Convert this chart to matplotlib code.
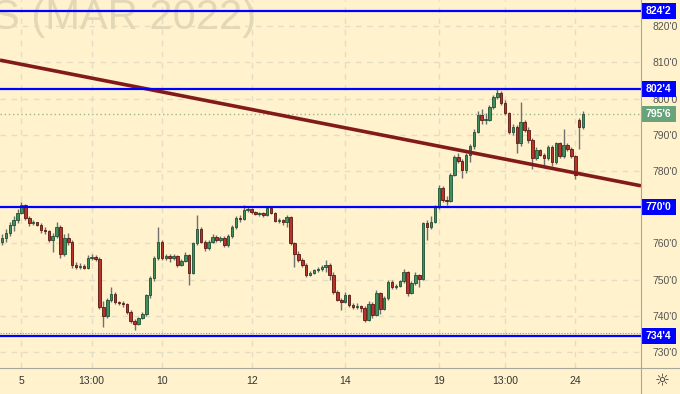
import matplotlib
matplotlib.use('Agg')
import matplotlib.pyplot as plt
import matplotlib.transforms as mtransforms
from matplotlib.patches import Rectangle

# hourly candles (open, high, low, close)
opens = [760.5, 761.5, 763, 765, 766.5, 768.5, 770.5, 767, 765.5, 765.8,
         765.2, 763.8, 763.4, 761, 762, 764.6, 757, 761.5, 760.5, 754,
         753.5, 753.8, 753.3, 756, 756.3, 755.8, 742.5, 740, 744.3, 746,
         743.8, 743.5, 743.2, 741, 738.5, 737.8, 739.4, 740.5, 745.7, 750.4,
         756, 760.4, 756, 756.5, 756, 756.4, 754, 755.2, 756.8, 751.8,
         760, 764.1, 760.5, 758.6, 760.5, 761.8, 761, 761.5, 759.5, 762,
         764.6, 767, 766.8, 769.2, 769.5, 768.6, 768.2, 768.4, 767.8, 769.7,
         768.5, 766.2, 766.5, 766, 767.3, 760, 757.2, 755.5, 754, 751.3,
         751.8, 752.6, 752.8, 753.5, 754, 751.3, 746.6, 744.5, 743.9, 745.7,
         743, 742.5, 742.8, 742.3, 738.8, 743.4, 740.2, 746.2, 742, 745,
         749.4, 748, 748.2, 749.5, 752.2, 746.2, 749, 751.2, 750.2, 765.5,
         764.5, 766, 770.1, 775.2, 772, 771.8, 778.9, 783.9, 782.8, 780.2,
         784.4, 787, 790.8, 795.4, 794, 794.2, 797.7, 800.5, 801.4, 798.7,
         795.9, 790.8, 792.2, 787.6, 793.6, 791.3, 788.5, 783.5, 785.8, 784.5,
         783.5, 786.7, 782.5, 787.6, 784, 787.1, 786, 784, 794, 792]
highs = [762.5, 764, 765.8, 767.5, 769.5, 771.5, 771, 767.5, 766.5, 766,
         765.5, 764.5, 763.8, 762.8, 766, 765, 762.5, 763, 761, 754.8,
         754.5, 754.2, 756.8, 757, 756.8, 756.2, 744, 744.8, 748, 746.5,
         744.2, 744, 743.5, 741.5, 739, 739.8, 741, 746, 751, 756.5,
         764.6, 761, 757.2, 757, 757, 756.8, 755.8, 757.5, 757.2, 760.5,
         767.8, 764.5, 761, 761, 762.5, 762.2, 762, 762, 762.5, 765,
         767.5, 767.8, 770.6, 770.2, 769.8, 769, 768.8, 768.6, 770.2, 770,
         768.8, 767, 766.8, 767.8, 767.5, 760.5, 757.8, 756, 754.5, 752.5,
         753, 753.5, 754, 755.5, 754.5, 752, 747, 745, 746.5, 746,
         743.5, 743.5, 743, 742.8, 744, 743.8, 747.2, 746.5, 745.5, 750,
         749.8, 748.8, 750, 752.8, 752.5, 749.5, 752, 751.5, 766, 766.5,
         767.5, 770.5, 776, 775.8, 773, 779.5, 784.5, 785, 783.2, 785,
         787.5, 791.5, 796.5, 797, 796, 798.2, 801, 802.5, 802, 799.5,
         796.2, 793, 792.8, 799.1, 794, 792, 789, 786.5, 786.2, 785,
         787.2, 787.2, 788, 788, 791.5, 787.8, 786.5, 784.5, 794.5, 796.5]
lows = [759.5, 760.5, 762, 763.5, 765.5, 768, 766.5, 764.8, 765, 764.8,
        763, 762.5, 760.5, 757.5, 761.5, 756, 756.5, 759.5, 753.3, 753,
        753, 752.8, 753, 755.5, 755.2, 742, 737, 739.5, 743.8, 743.2,
        743, 742.5, 740.5, 738, 736, 737.5, 739, 740, 745, 749.5,
        755.5, 755.5, 755.5, 755, 755.5, 753.5, 753.8, 754.8, 748.5, 751.5,
        759.5, 760, 758, 758.2, 760, 760.5, 760.5, 759, 759, 761.5,
        764, 766, 766.5, 768.8, 768, 767.8, 767.5, 767.2, 767.5, 768,
        765.8, 765.5, 765.2, 764.5, 759.5, 753.5, 755, 753.5, 750.8, 751,
        751.5, 752, 752.5, 752, 750, 746, 744, 741.5, 743.5, 742.5,
        742, 742, 741, 738.2, 738.5, 739.5, 740, 740.5, 741.5, 744.5,
        747.5, 747.5, 748, 749, 745.5, 746, 748.5, 748, 749.8, 761,
        764, 765.5, 769.5, 771.5, 770.5, 771.5, 778.5, 782.2, 778, 779.5,
        782.5, 786, 790.5, 793, 793, 793.8, 797, 800, 798.2, 795.5,
        790.2, 790, 785, 787, 790.8, 787.8, 780.5, 783, 784, 781,
        783, 781.5, 782, 783.5, 783.5, 785.5, 783.5, 777.8, 786, 791.5]
closes = [761.5, 763, 765, 766.5, 768.5, 770.5, 767, 765.5, 765.8, 765.2,
          763.8, 763.4, 761, 762, 764.6, 757, 761.5, 760.5, 754, 753.5,
          753.8, 753.3, 756, 756.3, 755.8, 742.5, 740, 744.3, 746, 743.8,
          743.5, 743.2, 741, 738.5, 737.8, 739.4, 740.5, 745.7, 750.4, 756,
          760.4, 756, 756.5, 756, 756.4, 754, 755.2, 756.8, 751.8, 760,
          764.1, 760.5, 758.6, 760.5, 761.8, 761, 761.5, 759.5, 762, 764.6,
          767, 766.8, 769.2, 769.5, 768.6, 768.2, 768.4, 767.8, 769.7, 768.5,
          766.2, 766.5, 766, 767.3, 760, 757.2, 755.5, 754, 751.3, 751.8,
          752.6, 752.8, 753.5, 754, 751.3, 746.6, 744.5, 743.9, 745.7, 743,
          742.5, 742.8, 742.3, 738.8, 743.4, 740.2, 746.2, 742, 745, 749.4,
          748, 748.2, 749.5, 752.2, 746.2, 749, 751.2, 750.2, 765.5, 764.5,
          766, 770.1, 775.2, 772, 771.8, 778.9, 783.9, 782.8, 780.2, 784.4,
          787, 790.8, 795.4, 794, 794.2, 797.7, 800.5, 801.4, 798.7, 795.9,
          790.8, 792.2, 787.6, 793.6, 791.3, 788.5, 783.5, 785.8, 784.5, 783.5,
          786.7, 782.5, 787.6, 784, 787.1, 786, 784, 778.9, 792, 795.75]

# x-axis labels and the bar each one sits on
tick_labels = ['5', '13:00', '10', '12', '14', '19', '13:00', '24']
tick_bars = [5, 23, 41, 64, 88, 112, 129, 147]

levels = [824.25, 802.5, 770.0, 734.5]   # blue horizontal levels
last_price = 795.75
prev_low = 735.3
trend_start, trend_end = 810.6, 775.9     # trend line price at left / right edge
title = 'S (MAR 2022)'

BG = '#fff2cc'
UP = '#3f8f5f'
DOWN = '#b8332a'


def fmt(p):
    whole = int(p)
    return "%d'%d" % (whole, round((p - whole) * 8))


fig = plt.figure(figsize=(6.8, 3.94), dpi=100, facecolor=BG)
ax = fig.add_axes([0, 26 / 394, 641 / 680, 368 / 394], facecolor=BG)
x_left, x_right = -0.51, 163.85
ax.set_xlim(x_left, x_right)
ax.set_ylim(725.6, 827.2)

# grid
for gy in range(730, 821, 10):
    ax.axhline(gy, color='#e3dcc6', lw=1, ls=(0, (4, 4)), zorder=0)
for tb in tick_bars:
    ax.axvline(tb, color='#e3dcc6', lw=1, ls=(0, (4, 4)), zorder=0)

# watermark
ax.text(-0.012, 0.92, title, transform=ax.transAxes, fontsize=30,
        family='Liberation Sans', color='#e3d8b6', ha='left', va='baseline', zorder=0)

# candles
xs = list(range(len(closes)))
ax.vlines(xs, lows, highs, color='#707070', lw=1, zorder=2)
bottoms = [min(o, c) for o, c in zip(opens, closes)]
heights = [max(abs(c - o), 0.3) for o, c in zip(opens, closes)]
colors = [UP if c >= o else DOWN for o, c in zip(opens, closes)]
edges = ['#1f4f33' if c >= o else '#5a1510' for o, c in zip(opens, closes)]
ax.bar(xs, heights, bottom=bottoms, width=0.65, color=colors, edgecolor=edges,
       linewidth=0.6, zorder=3)

# drawings
ax.plot([x_left, x_right], [trend_start, trend_end], color='#821a1a', lw=2.6,
        solid_capstyle='butt', zorder=4)
for lv in levels:
    ax.axhline(lv, color='#0000ff', lw=1.6, zorder=4)
ax.axhline(last_price, color='#9fb88f', lw=1, ls=(0, (1, 2)), zorder=1)
ax.axhline(prev_low, color='#9a9a9a', lw=0.8, ls=(0, (1, 1.5)), zorder=1)

# axes styling
for s in ax.spines.values():
    s.set_visible(False)
ax.set_xticks(tick_bars)
ax.set_xticklabels(tick_labels)
# the 770'0 scale label sits under the level box, so leave it out
yticks = [v for v in range(730, 821, 10) if v != 770]
ax.set_yticks(yticks)
ax.set_yticklabels([fmt(v) for v in yticks])
ax.yaxis.tick_right()
ax.tick_params(axis='x', length=0, pad=6, labelsize=7.5, labelcolor='#333333')
ax.tick_params(axis='y', length=0, pad=8, labelsize=7.5, labelcolor='#555555')
for lab in ax.get_xticklabels() + ax.get_yticklabels():
    lab.set_family('Liberation Sans')

# price labels on the right scale
blend = mtransforms.blended_transform_factory(ax.transAxes, ax.transData)
box_w = 35 / 641
box_h = 16 / 3.622
for lv, fc in [(lv, '#0000ff') for lv in levels] + [(last_price, '#68a37b')]:
    ax.add_patch(Rectangle((1.0, lv - box_h / 2), box_w, box_h, transform=blend,
                           facecolor=fc, edgecolor='none', clip_on=False, zorder=6))
    ax.text(1.0 + box_w / 2, lv, fmt(lv), transform=blend, ha='center', va='center',
            color='white', fontsize=7.5, fontweight='bold', family='Liberation Sans',
            clip_on=False, zorder=7)

# separators and gear icon
fig.add_artist(plt.Line2D([641 / 680, 641 / 680], [0, 1], color='#a8a59a', lw=0.8))
fig.add_artist(plt.Line2D([0, 1], [26 / 394, 26 / 394], color='#a8a59a', lw=0.8))
fig.text(662 / 680, 13 / 394, '\u263c', fontsize=12, color='#333333',
         ha='center', va='center', family='DejaVu Sans')

fig.savefig('out.png', dpi=100, facecolor=BG)
